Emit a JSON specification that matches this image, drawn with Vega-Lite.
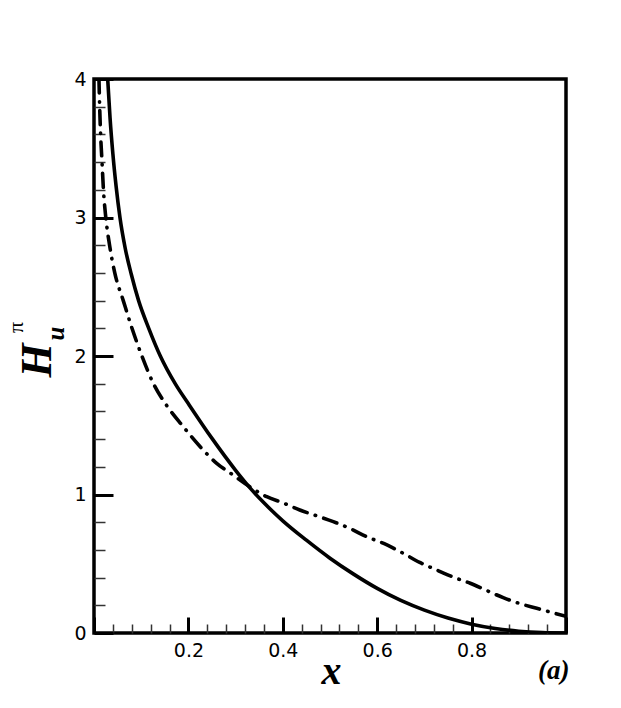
{
  "$schema": "https://vega.github.io/schema/vega-lite/v6.json",
  "width": 472,
  "height": 554,
  "autosize": {"type": "none"},
  "padding": {"left": 94, "top": 79, "right": 55, "bottom": 75},
  "background": "white",
  "datasets": {
    "solid": [
      {"x": 0.029, "y": 4.0}, {"x": 0.034, "y": 3.72}, {"x": 0.04, "y": 3.46}, {"x": 0.047, "y": 3.22},
      {"x": 0.055, "y": 3.0}, {"x": 0.066, "y": 2.78}, {"x": 0.079, "y": 2.59}, {"x": 0.0945, "y": 2.4},
      {"x": 0.116, "y": 2.2}, {"x": 0.1405, "y": 2.0}, {"x": 0.172, "y": 1.8}, {"x": 0.202, "y": 1.645},
      {"x": 0.25, "y": 1.405}, {"x": 0.3, "y": 1.175}, {"x": 0.33, "y": 1.05}, {"x": 0.36, "y": 0.94},
      {"x": 0.4, "y": 0.81}, {"x": 0.45, "y": 0.67}, {"x": 0.5, "y": 0.54}, {"x": 0.55, "y": 0.425},
      {"x": 0.6, "y": 0.322}, {"x": 0.65, "y": 0.235}, {"x": 0.7, "y": 0.165}, {"x": 0.75, "y": 0.108},
      {"x": 0.8, "y": 0.064}, {"x": 0.85, "y": 0.033}, {"x": 0.9, "y": 0.013}, {"x": 0.95, "y": 0.003},
      {"x": 1.0, "y": 0.0}
    ],
    "dashdot": [
      {"x": 0.0105, "y": 4.0}, {"x": 0.012, "y": 3.8}, {"x": 0.014, "y": 3.6}, {"x": 0.017, "y": 3.4},
      {"x": 0.02, "y": 3.2}, {"x": 0.025, "y": 3.0}, {"x": 0.033, "y": 2.8}, {"x": 0.044, "y": 2.6},
      {"x": 0.062, "y": 2.4}, {"x": 0.0805, "y": 2.2}, {"x": 0.1015, "y": 2.0}, {"x": 0.126, "y": 1.8},
      {"x": 0.1525, "y": 1.65}, {"x": 0.189, "y": 1.49}, {"x": 0.225, "y": 1.345}, {"x": 0.26, "y": 1.225},
      {"x": 0.295, "y": 1.14}, {"x": 0.33, "y": 1.056}, {"x": 0.366, "y": 0.984}, {"x": 0.4, "y": 0.94},
      {"x": 0.436, "y": 0.888}, {"x": 0.47, "y": 0.848}, {"x": 0.507, "y": 0.804}, {"x": 0.545, "y": 0.75},
      {"x": 0.578, "y": 0.695}, {"x": 0.615, "y": 0.645}, {"x": 0.65, "y": 0.585}, {"x": 0.69, "y": 0.51},
      {"x": 0.726, "y": 0.455}, {"x": 0.76, "y": 0.405}, {"x": 0.797, "y": 0.359}, {"x": 0.83, "y": 0.31},
      {"x": 0.867, "y": 0.255}, {"x": 0.9, "y": 0.215}, {"x": 0.938, "y": 0.178}, {"x": 0.97, "y": 0.148},
      {"x": 1.0, "y": 0.12}
    ]
  },
  "layer": [
    {
      "data": {"name": "solid"},
      "mark": {"type": "line", "color": "black", "strokeWidth": 3.6, "interpolate": "monotone", "clip": true},
      "encoding": {
        "x": {
          "field": "x", "type": "quantitative",
          "scale": {"domain": [0, 1], "nice": false, "zero": false},
          "axis": {
            "orient": "bottom",
            "domain": false,
            "grid": false,
            "values": [0, 0.04, 0.08, 0.12, 0.16, 0.2, 0.24, 0.28, 0.32, 0.36, 0.4, 0.44, 0.48, 0.52, 0.56, 0.6, 0.64, 0.68, 0.72, 0.76, 0.8, 0.84, 0.88, 0.92, 0.96, 1],
            "format": ".1f",
            "labelExpr": "(abs(datum.value*5 - round(datum.value*5)) < 0.001 && datum.value > 0.01 && datum.value < 0.99) ? format(datum.value, '.1f') : ''",
            "tickSize": {"condition": {"test": "abs(datum.value*5 - round(datum.value*5)) < 0.001", "value": -16}, "value": -9},
            "tickWidth": {"condition": {"test": "abs(datum.value*5 - round(datum.value*5)) < 0.001", "value": 3}, "value": 1.5},
            "tickColor": {"condition": {"test": "abs(datum.value*5 - round(datum.value*5)) < 0.001", "value": "black"}, "value": "#333333"},
            "labelPadding": 24,
            "labelFont": "DejaVu Sans",
            "labelFontSize": 19,
            "labelColor": "black",
            "labelFlush": false,
            "labelOverlap": false,
            "title": "x",
            "titleFont": "Liberation Serif",
            "titleFontSize": 40,
            "titleFontWeight": "bold",
            "titleFontStyle": "italic",
            "titleColor": "black",
            "titleX": 237,
            "titleY": 50,
            "titleAlign": "center",
            "titleBaseline": "alphabetic"
          }
        },
        "y": {
          "field": "y", "type": "quantitative",
          "scale": {"domain": [0, 4], "nice": false, "zero": false},
          "axis": {
            "orient": "left",
            "domain": false,
            "grid": false,
            "values": [0, 0.2, 0.4, 0.6, 0.8, 1, 1.2, 1.4, 1.6, 1.8, 2, 2.2, 2.4, 2.6, 2.8, 3, 3.2, 3.4, 3.6, 3.8, 4],
            "labelExpr": "abs(datum.value - round(datum.value)) < 0.001 ? format(datum.value, 'd') : ''",
            "tickSize": {"condition": {"test": "abs(datum.value - round(datum.value)) < 0.001", "value": -19}, "value": -11},
            "tickWidth": {"condition": {"test": "abs(datum.value - round(datum.value)) < 0.001", "value": 3}, "value": 1.5},
            "tickColor": {"condition": {"test": "abs(datum.value - round(datum.value)) < 0.001", "value": "black"}, "value": "#333333"},
            "labelPadding": 27,
            "labelFont": "DejaVu Sans",
            "labelFontSize": 19,
            "labelColor": "black",
            "labelFlush": false,
            "labelOverlap": false,
            "title": "H",
            "titleFont": "Liberation Serif",
            "titleFontSize": 44,
            "titleFontWeight": "bold",
            "titleFontStyle": "italic",
            "titleColor": "black",
            "titleAngle": -90,
            "titleX": -44,
            "titleY": 281,
            "titleAlign": "center",
            "titleBaseline": "alphabetic"
          }
        }
      }
    },
    {
      "data": {"name": "dashdot"},
      "mark": {"type": "line", "color": "black", "strokeWidth": 3.6, "interpolate": "monotone", "strokeDash": [14, 8.5, 0.5, 8.5], "strokeCap": "round", "clip": true},
      "encoding": {
        "x": {
          "field": "x", "type": "quantitative",
          "scale": {"domain": [0, 1], "nice": false, "zero": false},
          "axis": {
            "orient": "bottom",
            "domain": false, "ticks": false, "labels": false, "grid": false,
            "title": "(a)",
            "titleFont": "Liberation Serif",
            "titleFontSize": 27,
            "titleFontWeight": "bold",
            "titleFontStyle": "italic",
            "titleColor": "black",
            "titleX": 475,
            "titleY": 45,
            "titleAlign": "right",
            "titleBaseline": "alphabetic"
          }
        },
        "y": {
          "field": "y", "type": "quantitative",
          "scale": {"domain": [0, 4], "nice": false, "zero": false},
          "axis": {
            "orient": "left",
            "domain": false, "ticks": false, "labels": false, "grid": false,
            "title": "u",
            "titleFont": "Liberation Serif",
            "titleFontSize": 25,
            "titleFontWeight": "bold",
            "titleFontStyle": "italic",
            "titleColor": "black",
            "titleAngle": -90,
            "titleX": -31,
            "titleY": 254,
            "titleAlign": "center",
            "titleBaseline": "alphabetic"
          }
        }
      }
    },
    {
      "data": {"name": "dashdot"},
      "mark": {"type": "line", "opacity": 0, "strokeOpacity": 0},
      "encoding": {
        "x": {
          "field": "x", "type": "quantitative",
          "scale": {"domain": [0, 1], "nice": false, "zero": false},
          "axis": null
        },
        "y": {
          "field": "y", "type": "quantitative",
          "scale": {"domain": [0, 4], "nice": false, "zero": false},
          "axis": {
            "orient": "left",
            "domain": false, "ticks": false, "labels": false, "grid": false,
            "title": "π",
            "titleFont": "Liberation Serif",
            "titleFontSize": 22,
            "titleFontWeight": "normal",
            "titleColor": "black",
            "titleAngle": -90,
            "titleX": -72,
            "titleY": 248,
            "titleAlign": "center",
            "titleBaseline": "alphabetic"
          }
        }
      }
    }
  ],
  "resolve": {"axis": {"x": "independent", "y": "independent"}},
  "config": {
    "view": {"stroke": "black", "strokeWidth": 3.5, "fill": "white"}
  }
}
